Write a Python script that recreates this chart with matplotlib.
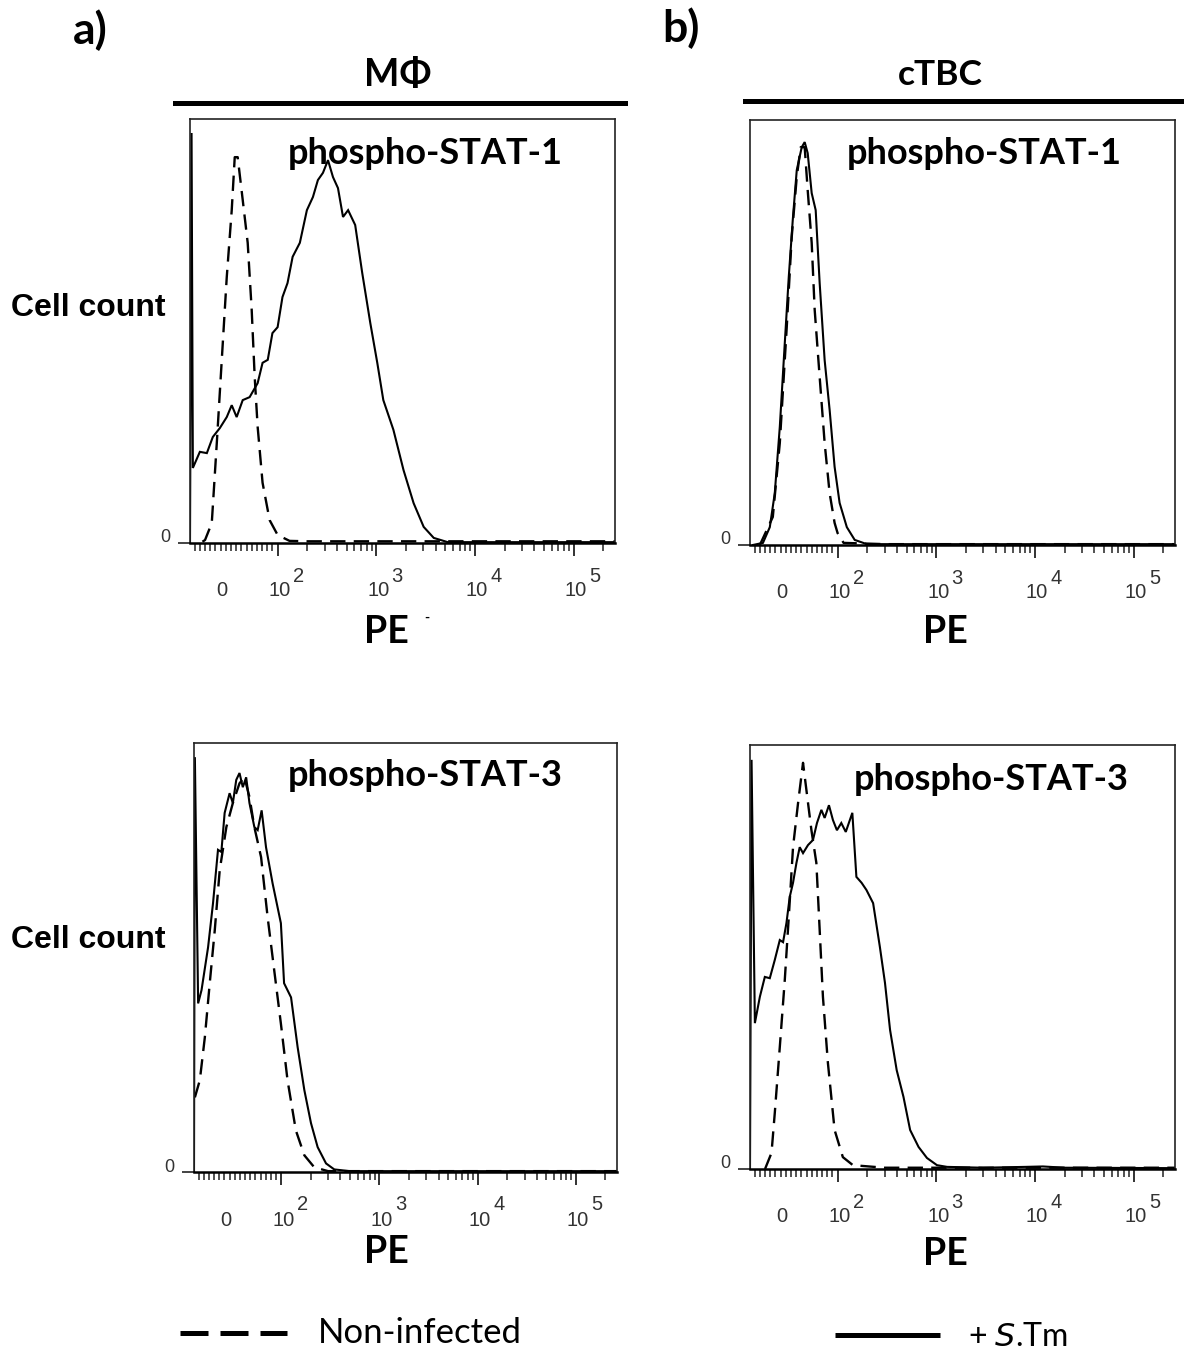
import matplotlib
matplotlib.use('Agg')
import matplotlib.pyplot as plt
import matplotlib.transforms as mtransforms
from matplotlib.lines import Line2D
from matplotlib.ticker import FixedLocator, NullFormatter

W, H = 1184, 1351
fig = plt.figure(figsize=(W / 100, H / 100), dpi=100)

CAL = ['Lato', 'Open Sans', 'DejaVu Sans']
ARIAL = ['Liberation Sans', 'DejaVu Sans']

# ---------------- data (PE value, % of mode) ----------------
a1_solid_x = [-69, -66, -63.5, -50, -36.5, -25, -11.5, 1.9, 11.5, 21, 32.7, 46, 61.5, 71, 81, 90, 100,
              112, 126, 142, 168, 198, 228, 256, 288, 324, 364, 409, 460, 518, 611, 720, 869, 1023,
              1178, 1490, 1887, 2388, 3020, 3819, 5297, 10000, 50000, 262144]
a1_solid_y = [0, 96.7, 17.7, 21.5, 21.2, 25.0, 27.1, 29.7, 32.5, 29.7, 33.7, 34.4, 37.7, 42.5, 43.2,
              49.5, 50.9, 58.0, 61.3, 67.5, 70.8, 78.5, 81.6, 85.6, 87.3, 90.3, 86.3, 83.7, 76.9, 78.5,
              75.0, 63.7, 51.9, 42.5, 33.7, 26.7, 17.2, 9.4, 3.8, 1.2, 0.2, 0.2, 0.2, 0.2]
a1_dash_x = [-45, -40, -27, -17.3, -7.7, 1.9, 11.5, 17.3, 23, 32.7, 42.3, 50, 55.8, 61.5, 71, 84.6,
             100, 132, 200, 1000, 10000, 100000, 262144]
a1_dash_y = [0.3, 0.7, 4.7, 23.6, 43.2, 62.7, 78.5, 91.0, 91.0, 80.9, 70.8, 55.0, 39.2, 27.4, 14.2,
             5.4, 1.9, 0.5, 0.4, 0.4, 0.4, 0.4, 0.4]

b1_solid_x = [-63.5, -44, -30.8, -21.2, -11.5, -1.9, 5.8, 13.5, 21.2, 30.8, 36.5, 42.3, 50, 57.7,
              65.4, 75, 84.6, 94.2, 104.8, 124, 149, 198, 1000, 10000, 262144]
b1_solid_y = [0, 0.5, 4.2, 12.2, 27.8, 47.5, 63.1, 76.5, 88.2, 93.6, 94.8, 92.2, 82.8, 78.8, 61.6,
              43.5, 31.8, 18.4, 9.9, 4.2, 1.2, 0.2, 0.2, 0.2, 0.2]
b1_dash_x = [-50, -25, -11.5, 1.9, 11.5, 21.2, 28.8, 36.5, 42.3, 50, 55.8, 65.4, 75, 84.6, 94.2,
             100, 115, 300, 262144]
b1_dash_y = [0, 6.6, 24.0, 51.3, 72.5, 86.6, 93.6, 93.6, 83.5, 71.1, 55.3, 39.5, 24.0, 12.2, 5.2,
             2.8, 0.5, 0.2, 0.2]

a2_solid_x = [-69, -67.3, -61, -54.4, -41.7, -32.1, -22.5, -16, -9.6, 0, 6.3, 12.9, 19.2, 25.6,
              32.1, 38.5, 48, 54.4, 62.1, 70.6, 83.3, 99.4, 107, 126, 147, 172, 201, 235, 286, 347,
              500, 262144]
a2_solid_y = [0, 96.7, 39.3, 42.4, 52.4, 62.7, 75.1, 74.6, 83.7, 88.3, 86.0, 91.4, 93.0, 89.7, 92.0,
              86.0, 80.4, 79.7, 84.3, 75.7, 67.3, 58.0, 44.0, 40.7, 29.1, 19.1, 11.4, 5.8, 2.0, 0.6,
              0.2, 0.2]
a2_dash_x = [-67.3, -57.7, -48, -38.5, -28.8, -19.2, -6.3, 6.3, 19.2, 28.8, 38.5, 48, 61, 73.7,
             86.5, 99.4, 116, 141, 172, 217, 300, 262144]
a2_dash_y = [17.4, 21.4, 31.4, 44.0, 56.3, 70.3, 80.4, 86.0, 90.6, 92.0, 87.4, 80.4, 73.4, 59.4,
             47.0, 34.6, 21.4, 9.7, 3.9, 1.1, 0.2, 0.2]

b2_solid_x = [-69, -66, -59.6, -50, -40.4, -30.8, -21.2, -11.5, -5.2, 1.3, 7.7, 14, 20.6, 26.9,
              33.3, 42.9, 52.5, 60.2, 68.7, 75, 83.3, 91, 98.7, 109, 121, 141, 155, 175, 196, 229,
              268, 302, 340, 397, 465, 543, 661, 804, 1016, 1285, 3000, 8000, 12000, 20000, 262144]
b2_solid_y = [0, 96.5, 34.4, 40.6, 45.3, 45.0, 49.3, 54.0, 53.5, 58.0, 64.2, 67.5, 72.2, 75.9, 74.5,
              76.4, 77.6, 81.6, 84.7, 82.8, 85.8, 82.3, 79.9, 81.6, 79.5, 84.0, 68.9, 67.5, 65.8,
              62.7, 52.4, 43.9, 32.8, 23.3, 17.0, 9.2, 5.2, 2.6, 0.9, 0.5, 0.3, 0.5, 0.6, 0.3, 0.2]
b2_dash_x = [-40, -27.5, -21.2, -11.5, -1.9, 6.3, 14, 23.7, 33.3, 39.8, 49.4, 59, 65.4, 71.7, 81.3,
             94.2, 113, 143, 300, 262144]
b2_dash_y = [0, 3.8, 13.2, 28.8, 44.6, 60.4, 75.9, 86.3, 95.8, 89.4, 80.0, 72.2, 56.4, 40.6, 25.0,
             9.2, 2.8, 0.9, 0.3, 0.3]

panel_titles = ['phospho-STAT-1', 'phospho-STAT-1', 'phospho-STAT-3', 'phospho-STAT-3']
major_ticks = [100, 1000, 10000, 100000]
major_exps = ['2', '3', '4', '5']
minor_ticks = ([-60, -50, -40, -30, -20, -10, 0, 10, 20, 30, 40, 50, 60, 70, 80, 90] +
               [k * 10 ** d for d in (2, 3, 4) for k in range(2, 10)] + [200000])
XMIN, XMAX = -69, 262144

# ---------------- layout (pixel boxes) ----------------
def rect(l, t, r, b):
    return [l / W, 1 - b / H, (r - l) / W, (b - t) / H]

boxes = [(190, 119, 615, 543), (750, 120, 1175, 545), (194, 743, 617, 1172), (750, 745, 1175, 1169)]
data = [(a1_solid_x, a1_solid_y, a1_dash_x, a1_dash_y),
        (b1_solid_x, b1_solid_y, b1_dash_x, b1_dash_y),
        (a2_solid_x, a2_solid_y, a2_dash_x, a2_dash_y),
        (b2_solid_x, b2_solid_y, b2_dash_x, b2_dash_y)]
title_pos = [(425, 153), (984, 153), (425, 776), (991, 779)]

for i, (box, (sx, sy, dx, dy)) in enumerate(zip(boxes, data)):
    ax = fig.add_axes(rect(*box))
    ax.set_xscale('symlog', linthresh=100, linscale=0.4727, base=10)
    ax.plot(sx, sy, color='black', lw=1.5, solid_joinstyle='miter')
    ax.plot(dx, dy, color='black', lw=1.7, dashes=(6.5, 3.5))
    ax.set_xlim(XMIN, XMAX)
    ax.set_ylim(0, 100)
    ax.xaxis.set_major_locator(FixedLocator(major_ticks))
    ax.xaxis.set_minor_locator(FixedLocator(minor_ticks))
    ax.xaxis.set_major_formatter(NullFormatter())
    ax.xaxis.set_minor_formatter(NullFormatter())
    ax.tick_params(axis='x', which='major', direction='out', length=9, width=1.3, color='#222')
    ax.tick_params(axis='x', which='minor', direction='out', length=5.5, width=1.1, color='#222')
    ax.set_yticks([0])
    ax.set_yticklabels([])
    ax.tick_params(axis='y', direction='out', length=9, width=1.2, color='#222')
    for s in ax.spines.values():
        s.set_linewidth(1.2)
        s.set_color('#222')
    ax.spines['bottom'].set_linewidth(1.8)
    ax.spines['bottom'].set_color('black')
    # tick labels drawn as text: full-size exponents like the original
    blend = mtransforms.blended_transform_factory(ax.transData, ax.transAxes)
    base_t = mtransforms.offset_copy(blend, fig=fig, x=2, y=-48, units='dots')
    zero_t = mtransforms.offset_copy(blend, fig=fig, x=-4, y=-48, units='dots')
    exp_t = mtransforms.offset_copy(blend, fig=fig, x=21, y=-33, units='dots')
    ax.text(0, 0, '0', transform=zero_t, ha='center', va='center', fontsize=14.5,
            family=ARIAL, color='#333')
    for v, e in zip(major_ticks, major_exps):
        ax.text(v, 0, '10', transform=base_t, ha='center', va='center', fontsize=14.5,
                family=ARIAL, color='#333')
        ax.text(v, 0, e, transform=exp_t, ha='center', va='center', fontsize=14.5,
                family=ARIAL, color='#333')
    yl_t = mtransforms.offset_copy(ax.transAxes, fig=fig, x=-25, y=5, units='dots')
    ax.text(0, 0, '0', transform=yl_t, ha='center', va='center', fontsize=13,
            family=ARIAL, color='#333')
    tx, ty = title_pos[i]
    fig.text(tx / W, 1 - ty / H, panel_titles[i], ha='center', va='center', fontsize=26,
             family=CAL, weight='bold')

# ---------------- figure texts ----------------
fig.text(90 / W, 1 - 30 / H, 'a)', ha='center', va='center', fontsize=32, family=CAL, weight='bold')
fig.text(681 / W, 1 - 28 / H, 'b)', ha='center', va='center', fontsize=32, family=CAL, weight='bold')
fig.text(398 / W, 1 - 75 / H, 'MΦ', ha='center', va='center', fontsize=27, family=CAL, weight='bold')
fig.text(940 / W, 1 - 75 / H, 'cTBC', ha='center', va='center', fontsize=25.5, family=CAL, weight='bold')
fig.add_artist(Line2D([175 / W, 625 / W], [1 - 103 / H] * 2, lw=3.6, color='black'))
fig.add_artist(Line2D([745 / W, 1184 / W], [1 - 101 / H] * 2, lw=3.6, color='black'))

for y in (308, 940):
    fig.text(88 / W, 1 - y / H, 'Cell count', ha='center', va='center', fontsize=23,
             family=ARIAL, weight='bold')
for (x, y) in [(386, 632), (945, 632), (386, 1252), (945, 1254)]:
    fig.text(x / W, 1 - y / H, 'PE', ha='center', va='center', fontsize=27, family=CAL, weight='bold')
fig.text(427 / W, 1 - 618 / H, '-', ha='center', va='center', fontsize=10, family=CAL, weight='bold')

# legend
fig.add_artist(Line2D([180 / W, 287 / W], [1 - 1333 / H] * 2, lw=3.6, color='black',
                      dashes=(5.6, 2.4), solid_capstyle='butt', dash_capstyle='butt'))
fig.text(318 / W, 1 - 1333 / H, 'Non-infected', ha='left', va='center', fontsize=25, family=CAL)
fig.add_artist(Line2D([835 / W, 940 / W], [1 - 1335 / H] * 2, lw=3.6, color='black',
                      solid_capstyle='butt'))
fig.text(968 / W, 1 - 1337 / H, '+ $\\it{S}$.Tm', ha='left', va='center', fontsize=23, family=CAL)

fig.savefig('out.png', dpi=100)
